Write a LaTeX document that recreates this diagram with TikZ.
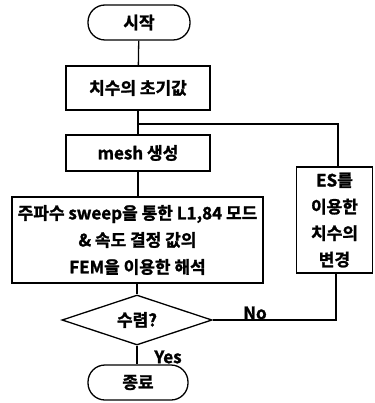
\documentclass[tikz,border=0pt]{standalone}
\usepackage{fontspec}
\setmainfont{Noto Sans CJK KR}[BoldFont={Noto Sans CJK KR Bold},BoldFeatures={FakeBold=1.5}]
\usetikzlibrary{shapes.geometric}
\begin{document}
\begin{tikzpicture}[x=1pt,y=1pt,
  every node/.style={font=\fontsize{17}{19}\selectfont\bfseries},
  line/.style={line width=1.3pt},
  term/.style={draw,line width=1.3pt,rectangle,rounded corners=17pt,minimum width=102pt,minimum height=35pt,inner sep=0pt},
  proc/.style={draw,line width=1.3pt,rectangle,inner sep=0pt},
  dec/.style={draw,line width=1.3pt,diamond,aspect=3,minimum width=150pt,minimum height=50pt,inner sep=0pt},
  lbl/.style={inner sep=0pt}]
\useasboundingbox (0,0) rectangle (374,-403);
\node[term] (start) at (139,-22.5) {시작};
\node[proc,minimum width=144pt,minimum height=44pt] (init) at (138,-88) {치수의 초기값};
\coordinate (j) at (138,-124);
\coordinate (jr) at (338,-124);
\node[proc,minimum width=144pt,minimum height=36pt] (mesh) at (138,-153) {mesh 생성};
\node[proc,minimum width=251pt,minimum height=86pt,align=center,font=\fontsize{17}{27}\selectfont\bfseries] (fem) at (137.5,-240) {주파수 sweep을 통한 L1,84 모드\\\& 속도 결정 값의\\FEM을 이용한 해석};
\node[dec] (dec) at (137,-320) {수렴?};
\node[proc,minimum width=76pt,minimum height=106pt,align=center,font=\fontsize{17}{26.5}\selectfont\bfseries] (es) at (334.5,-220) {ES를\\이용한\\치수의\\변경};
\node[term,minimum width=100pt] (end) at (138,-382.5) {종료};
\coordinate (nc) at (336,-320);
\draw[line] (start) -- (init);
\draw[line] (init) -- (mesh);
\draw[line] (j) -- (jr) -- (jr |- es.north);
\draw[line] (mesh) -- (mesh |- fem.north);
\draw[line] (fem.south -| dec.north) -- (dec.north);
\draw[line] (dec.south) -- (end.north -| dec.south);
\draw[line] (dec.east) -- (nc) -- (nc |- es.south);
\node[lbl] (no) at (255,-313) {No};
\node[lbl] (yes) at (168,-357) {Yes};
\end{tikzpicture}
\end{document}
